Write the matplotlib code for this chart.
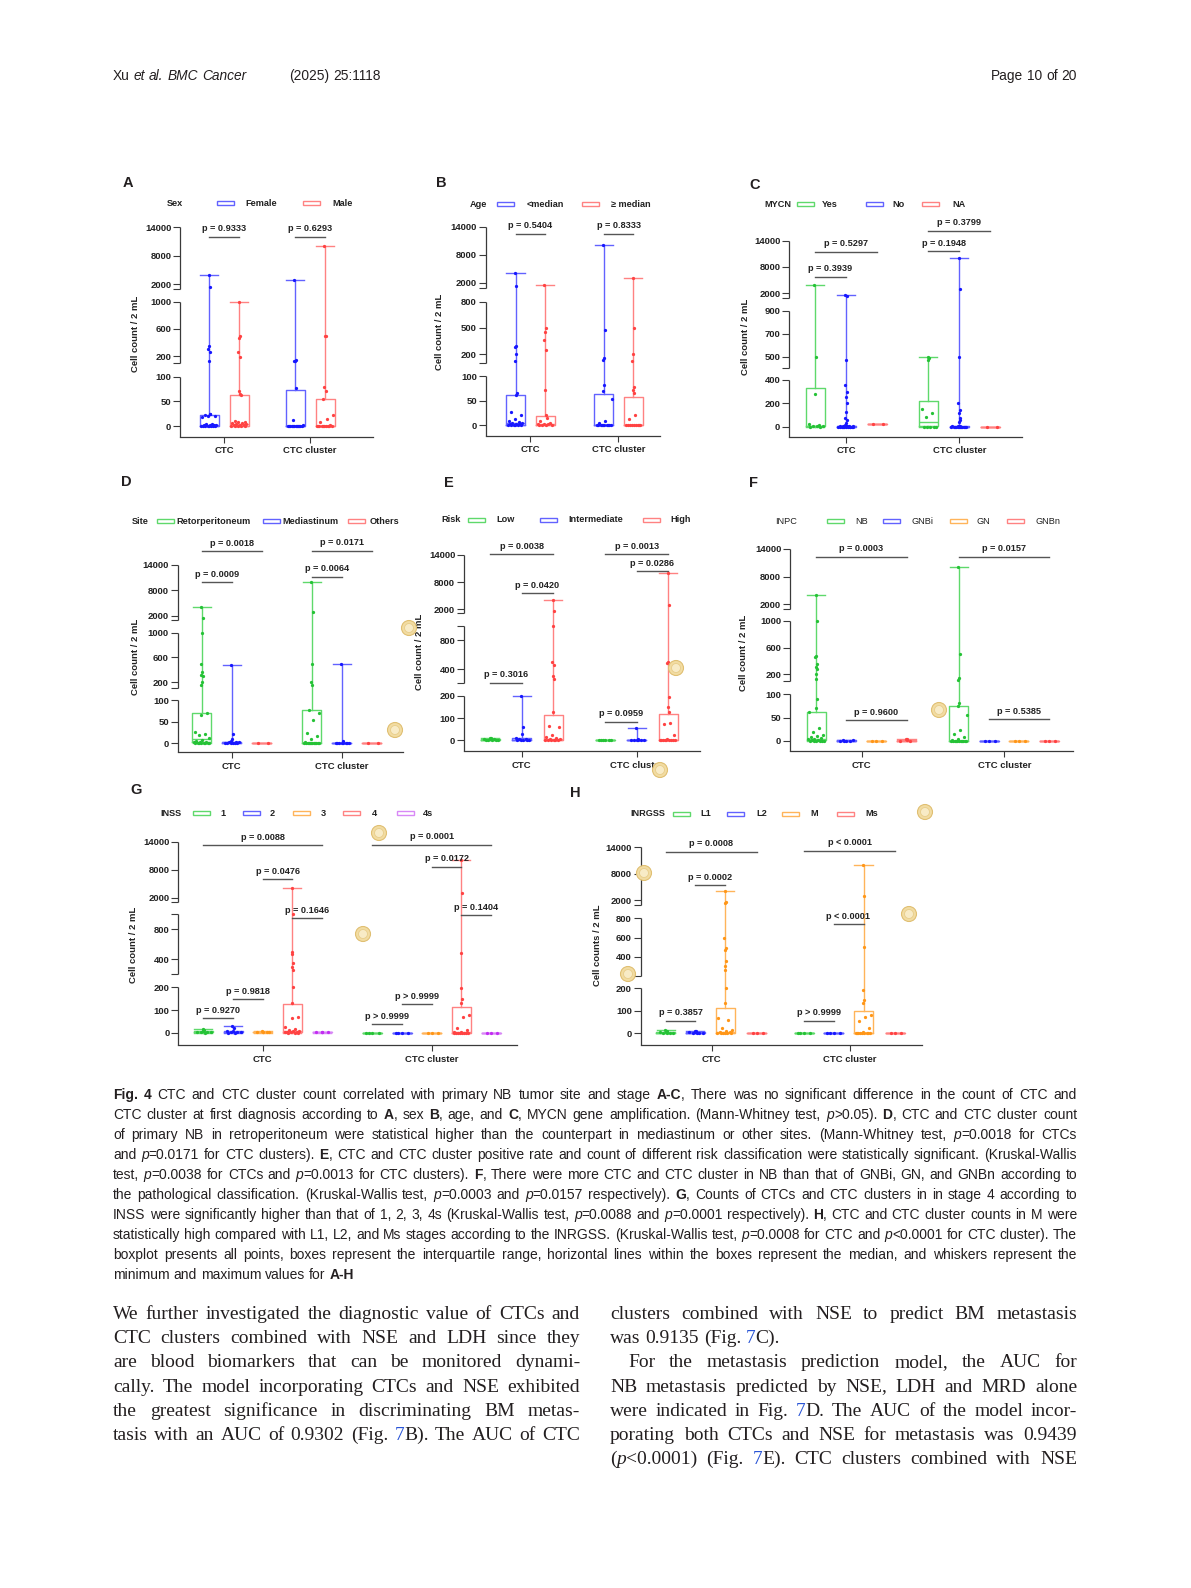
import re
import numpy as np
import matplotlib
matplotlib.use('Agg')
import matplotlib.pyplot as plt
import matplotlib.transforms as mtransforms
from matplotlib.patches import Rectangle, Ellipse

plt.rcParams['font.family'] = ['Liberation Sans', 'DejaVu Sans']

# ---------------- data ----------------
categories = ["CTC", "CTC cluster"]

# box rows per group: [min, q1, median, q3, max]
A_groups = ["Female", "Male"]
A_ctc_box = [[0, 1, 3, 22, 4000], [0, 1, 4, 63, 1000]]
A_cl_box = [[0, 0, 0, 74, 3000], [0, 0, 1, 55, 10000]]
A_ctc_pts = [[4000, 1500, 350, 310, 265, 120, 25, 24, 22, 21, 20, 18, 5, 4, 3, 3, 2, 2, 1, 1, 0, 0, 0, 0, 0, 0],
             [1000, 495, 460, 265, 190, 70, 65, 62, 10, 9, 8, 7, 6, 5, 4, 3, 3, 2, 1, 0, 0, 0, 0]]
A_cl_pts = [[3000, 140, 130, 125, 78, 12, 2, 1, 0, 0, 0, 0, 0, 0, 0, 0, 0, 0, 0],
            [10000, 500, 490, 80, 70, 55, 22, 15, 8, 2, 1, 0, 0, 0, 0, 0, 0, 0, 0, 0]]
A_pvals = [(0, 0, 1, 12000, "p = 0.9333"), (1, 0, 1, 12000, "p = 0.6293")]
A_yticks = [0, 50, 100, 200, 600, 1000, 2000, 8000, 14000]

B_groups = ["<median", "\u2265 median"]
B_ctc_box = [[0, 1, 4, 61, 4000], [0, 1, 2, 19, 1500]]
B_cl_box = [[0, 0, 0, 64, 10000], [0, 0, 0, 58, 3000]]
B_ctc_pts = [[4000, 1200, 290, 280, 205, 125, 65, 62, 26, 21, 12, 9, 7, 5, 4, 3, 3, 2, 1, 1, 0, 0, 0, 0],
             [1500, 495, 455, 360, 245, 72, 21, 14, 8, 4, 3, 2, 2, 1, 0, 0, 0]]
B_cl_pts = [[10000, 480, 150, 130, 81, 70, 54, 9, 5, 0, 0, 0, 0, 0, 0, 0, 0, 0, 0],
            [3000, 500, 200, 125, 78, 72, 65, 21, 12, 1, 0, 0, 0, 0, 0, 0, 0, 0]]
B_pvals = [(0, 0, 1, 12500, "p = 0.5404"), (1, 0, 1, 12500, "p = 0.8333")]
B_yticks = [0, 50, 100, 200, 500, 800, 2000, 8000, 14000]

C_groups = ["Yes", "No", "NA"]
C_ctc_box = [[0, 3, 8, 330, 4000], [0, 0, 2, 10, 1500], [20, 20, 20, 20, 20]]
C_cl_box = [[0, 5, 43, 223, 500], [0, 0, 1, 8, 10000], [0, 0, 0, 0, 0]]
C_ctc_pts = [[4000, 500, 277, 20, 12, 8, 5, 3, 0, 0],
             [1500, 1400, 470, 357, 300, 257, 200, 129, 71, 57, 29, 15, 10, 8, 5, 3, 2, 1, 0, 0, 0, 0, 0, 0, 0, 0, 0, 0],
             [20, 20]]
C_cl_pts = [[500, 490, 470, 149, 120, 80, 0, 0, 0, 0, 0],
            [10000, 3000, 500, 200, 143, 114, 71, 57, 43, 10, 5, 3, 1, 0, 0, 0, 0, 0, 0, 0, 0, 0, 0, 0],
            [0, 0]]
C_pvals = [(0, 0, 1, 5800, "p = 0.3939"), (0, 0, 2, 11500, "p = 0.5297"),
           (1, 0, 1, 11600, "p = 0.1948"), (1, 0, 2, 16300, "p = 0.3799")]
C_yticks = [0, 200, 400, 500, 700, 900, 2000, 8000, 14000]

D_groups = ["Retorperitoneum", "Mediastinum", "Others"]
D_ctc_box = [[0, 2, 10, 71, 4000], [0, 0, 2, 4, 475], [0, 0, 0, 0, 0]]
D_cl_box = [[0, 0, 0, 78, 10000], [0, 0, 0, 0, 500], [0, 0, 0, 0, 0]]
D_ctc_pts = [[4000, 1450, 1000, 500, 368, 310, 290, 205, 150, 69, 65, 27, 22, 19, 12, 8, 5, 4, 3, 2, 1, 1, 0, 0, 0, 0, 0, 0],
             [475, 21, 10, 5, 4, 3, 2, 1, 0, 0, 0, 0, 0],
             [0, 0]]
D_cl_pts = [[10000, 3000, 490, 200, 150, 77, 69, 54, 23, 18, 10, 2, 0, 0, 0, 0, 0, 0, 0, 0, 0, 0, 0, 0],
            [500, 5, 0, 0, 0, 0, 0, 0, 0, 0],
            [0, 0]]
D_pvals = [(0, 0, 1, 10000, "p = 0.0009"), (0, 0, 2, 17300, "p = 0.0018"),
           (1, 0, 1, 11250, "p = 0.0064"), (1, 0, 2, 17400, "p = 0.0171")]
D_yticks = [0, 50, 100, 200, 600, 1000, 2000, 8000, 14000]

E_groups = ["Low", "Intermediate", "High"]
E_ctc_box = [[0, 1, 3, 8, 12], [0, 1, 3, 9, 200], [0, 2, 7, 113, 4000]]
E_cl_box = [[0, 0, 0, 0, 0], [0, 0, 0, 3, 54], [0, 0, 1, 116, 10000]]
E_ctc_pts = [[12, 10, 8, 6, 4, 3, 2, 1, 0, 0],
             [200, 61, 27, 9, 6, 4, 3, 2, 1, 0, 0],
             [4000, 1600, 1000, 500, 455, 308, 262, 128, 66, 61, 24, 16, 9, 7, 5, 3, 2, 1, 0, 0, 0]]
E_cl_pts = [[0, 0, 0, 0, 0, 0],
            [54, 6, 3, 0, 0, 0, 0, 0],
            [10000, 3000, 500, 480, 193, 150, 125, 76, 72, 24, 8, 1, 0, 0, 0, 0, 0, 0, 0, 0]]
E_pvals = [(0, 0, 1, 210, "p = 0.3016"), (0, 1, 2, 5500, "p = 0.0420"), (0, 0, 2, 14150, "p = 0.0038"),
           (1, 0, 1, 84, "p = 0.0959"), (1, 1, 2, 10450, "p = 0.0286"), (1, 0, 2, 14150, "p = 0.0013")]
E_yticks = [0, 100, 200, 400, 800, 1000, 2000, 8000, 14000]
E_ylabels = ["0", "100", "200", "400", "800", "", "2000", "8000", "14000"]

F_groups = ["NB", "GNBi", "GN", "GNBn"]
F_ctc_box = [[0, 2, 4, 63, 4000], [0, 0, 1, 2, 3], [0, 0, 0, 0, 0], [0, 0, 1, 3, 5]]
F_cl_box = [[0, 0, 0, 74, 10000], [0, 0, 0, 0, 0], [0, 0, 0, 0, 0], [0, 0, 0, 0, 0]]
F_ctc_pts = [[4000, 1000, 480, 455, 355, 315, 280, 200, 130, 91, 71, 63, 27, 20, 13, 10, 8, 6, 5, 4, 3, 2, 1, 1, 0, 0, 0, 0],
             [3, 2, 1, 1, 0, 0],
             [0, 0, 0],
             [5, 4, 3, 1, 0]]
F_cl_pts = [[10000, 500, 140, 120, 81, 75, 56, 24, 16, 9, 4, 2, 0, 0, 0, 0, 0, 0, 0, 0, 0, 0, 0],
            [0, 0, 0], [0, 0, 0], [0, 0, 0]]
F_pvals = [(0, 0, 3, 12300, "p = 0.0003"), (0, 1, 3, 45, "p = 0.9600"),
           (1, 0, 3, 12300, "p = 0.0157"), (1, 1, 3, 47, "p = 0.5385")]
F_yticks = [0, 50, 100, 200, 600, 1000, 2000, 8000, 14000]

G_groups = ["1", "2", "3", "4", "4s"]
G_ctc_box = [[0, 1, 3, 8, 15], [0, 1, 4, 9, 29], [0, 1, 2, 4, 6], [0, 2, 7, 126, 4000], [0, 1, 2, 3, 5]]
G_cl_box = [[0, 0, 0, 0, 0], [0, 0, 0, 0, 0], [0, 0, 0, 0, 0], [0, 0, 1, 112, 10000], [0, 0, 0, 0, 0]]
G_ctc_pts = [[15, 10, 7, 5, 3, 2, 1, 0],
             [29, 19, 9, 6, 4, 2, 1, 0, 0],
             [6, 4, 3, 2, 1],
             [4000, 1000, 493, 470, 356, 293, 258, 200, 129, 71, 63, 24, 18, 12, 8, 6, 4, 3, 2, 1, 0, 0, 0],
             [5, 3, 2, 1]]
G_cl_pts = [[0, 0, 0, 0], [0, 0, 0, 0], [0, 0, 0],
            [10000, 3000, 490, 196, 150, 129, 78, 71, 19, 12, 5, 1, 0, 0, 0, 0, 0, 0, 0, 0],
            [0, 0, 0]]
G_pvals = [(0, 0, 1, 63, "p = 0.9270"), (0, 1, 2, 147, "p = 0.9818"), (0, 2, 3, 6000, "p = 0.0476"),
           (0, 3, 4, 950, "p = 0.1646"), (0, 0, 4, 13200, "p = 0.0088"),
           (1, 0, 1, 38, "p > 0.9999"), (1, 1, 2, 125, "p > 0.9999"), (1, 2, 3, 8600, "p = 0.0172"),
           (1, 3, 4, 990, "p = 0.1404"), (1, 0, 4, 13300, "p = 0.0001")]
G_yticks = [0, 100, 200, 400, 800, 1000, 2000, 8000, 14000]
G_ylabels = ["0", "100", "200", "400", "800", "", "2000", "8000", "14000"]

H_groups = ["L1", "L2", "M", "Ms"]
H_ctc_box = [[0, 1, 3, 8, 15], [0, 1, 3, 7, 12], [0, 2, 5, 111, 4000], [0, 0, 0, 0, 0]]
H_cl_box = [[0, 0, 0, 0, 0], [0, 0, 0, 0, 0], [0, 0, 1, 101, 10000], [0, 0, 0, 0, 0]]
H_ctc_pts = [[15, 11, 7, 5, 3, 2, 1, 0],
             [12, 9, 6, 4, 3, 2, 1, 0],
             [4000, 1500, 1300, 593, 489, 470, 358, 304, 263, 200, 133, 67, 59, 22, 15, 10, 8, 5, 3, 2, 1, 0, 0, 0],
             [0, 0, 0]]
H_cl_pts = [[0, 0, 0, 0], [0, 0, 0, 0],
            [10000, 3000, 500, 193, 148, 136, 81, 71, 56, 22, 8, 2, 0, 0, 0, 0, 0, 0, 0, 0],
            [0, 0, 0]]
H_pvals = [(0, 0, 1, 56, "p = 0.3857"), (0, 1, 2, 5400, "p = 0.0002"), (0, 0, 3, 13000, "p = 0.0008"),
           (1, 0, 1, 56, "p > 0.9999"), (1, 1, 2, 740, "p < 0.0001"), (1, 0, 3, 13200, "p < 0.0001")]
H_yticks = [0, 100, 200, 400, 600, 800, 2000, 8000, 14000]

# ---------------- style ----------------
GREEN = ('#25c236', '#5fd96b')
BLUE = ('#1717ff', '#6262ff')
RED = ('#ff4242', '#ff8282')
ORANGE = ('#ff9617', '#ffb45a')
PURPLE = ('#c22cf2', '#d888f6')
TXT = '#222222'
AXC = '#3a3a3a'
PAGE_TXT = '#231f20'
LINK = '#2a55d6'

W, H = 1191, 1588
fig = plt.figure(figsize=(W / 100, H / 100), dpi=100)
fig.patch.set_facecolor('white')


def fx(x):
    return x / W


def fy(y):
    return 1 - y / H


def make_scale(segs, axis_y):
    xs, ps = [], []
    for da, ya, db, yb, lo, hi in segs:
        ha, hb = axis_y - ya, axis_y - yb
        k = (hb - ha) / (db - da)
        lo = -1e4 if lo is None else lo * (1 + 1e-7) + 1e-7
        hi = 1e6 if hi is None else hi
        for d in (lo, hi):
            xs.append(d)
            ps.append(ha + k * (d - da))
    xs, ps = np.array(xs), np.array(ps)
    return (lambda v: np.interp(v, xs, ps)), (lambda p: np.interp(p, ps, xs))


def panel(lay, letter, title, groups, colors, ctc_box, cl_box, ctc_pts, cl_pts, pvals,
          yticks, ylabels=None, ylab="Cell count / 2 mL", legend_weight='bold'):
    L, ay, R = lay['spine_x'], lay['axis_y'], lay['x_end']
    t0, t1 = lay['ticks_x']
    s = t1 - t0
    segs = lay['segs']
    fwd, inv = make_scale(segs, ay)
    top = segs[-1][3] - 45
    hgt = ay - top
    ax = fig.add_axes([fx(L), fy(ay), (R - L) / W, hgt / H])
    ax.set_yscale('function', functions=(fwd, inv))

    offs = np.array(lay['offsets']) / s
    w = 19 / s
    for g in range(len(groups)):
        pc, lc = colors[g]
        stats = []
        for box in (ctc_box[g], cl_box[g]):
            mn, q1, med, q3, mx = box
            stats.append(dict(whislo=mn, q1=q1, med=med, q3=q3, whishi=mx))
        lp = dict(color=lc, lw=1.0)
        ax.bxp(stats, positions=[0 + offs[g], 1 + offs[g]], widths=w, capwidths=w * 0.95,
               showfliers=False, manage_ticks=False, boxprops=lp, whiskerprops=lp,
               capprops=lp, medianprops=lp)
        for c, (pts, box) in enumerate(((ctc_pts[g], ctc_box[g]), (cl_pts[g], cl_box[g]))):
            q3 = box[3]
            xs = []
            for i, v in enumerate(pts):
                amp = w * 0.85 if v <= max(q3, 3) else w * 0.12
                xs.append(c + offs[g] + (((i * 0.618034 + 0.27) % 1) - 0.5) * amp)
            ax.scatter(xs, pts, s=5.5, color=pc, linewidths=0, zorder=3, clip_on=False)

    # significance brackets
    for c, i, j, yv, txt in pvals:
        x1, x2 = c + offs[i], c + offs[j]
        ax.plot([x1, x2], [yv, yv], color='#555555', lw=1.0, clip_on=False)
        ax.annotate(txt, xy=((x1 + x2) / 2, yv), xytext=(0, 2.5), textcoords='offset points',
                    ha='center', va='bottom', fontsize=6.6, weight='bold', color=TXT,
                    annotation_clip=False)

    ax.set_xlim((L - t0) / s, (R - t0) / s)
    ax.set_ylim(inv(0.0), inv(hgt))

    # broken left axis
    for sp in ('left', 'top', 'right'):
        ax.spines[sp].set_visible(False)
    ax.spines['bottom'].set_color(AXC)
    ax.spines['bottom'].set_linewidth(0.9)
    tr = mtransforms.blended_transform_factory(ax.transAxes, ax.transData)
    breaks = []
    for seg in segs:
        lo, hi = seg[4], seg[5]
        y0 = inv(0.0) if lo is None else lo + 0.01
        y1 = max(yticks) if hi is None else hi
        if lo is not None:
            breaks.append(lo + 0.01)
        ax.plot([0, 0], [y0, y1], transform=tr, color=AXC, lw=0.9, clip_on=False,
                solid_capstyle='butt')
    if ylabels is None:
        ylabels = [str(v) for v in yticks]
    ax.set_yticks(yticks, labels=ylabels)
    ax.set_yticks(breaks, minor=True)
    ax.tick_params(axis='y', which='both', length=4.8, width=0.8, color=AXC, pad=1.5,
                   labelsize=6.8, labelcolor=TXT)
    ax.set_xticks([0, 1], labels=categories)
    ax.tick_params(axis='x', length=4.5, width=0.8, color=AXC, pad=2.5, labelsize=6.8,
                   labelcolor=TXT)
    for t in ax.get_yticklabels() + ax.get_xticklabels():
        t.set_fontweight('bold')

    # panel letter, y label, legend
    fig.text(fx(lay['letter'][0]), fy(lay['letter'][1]), letter, fontsize=10.5, weight='bold',
             color=PAGE_TXT, ha='center', va='center')
    fig.text(fx(lay['ylab'][0]), fy(lay['ylab'][1]), ylab, rotation=90, fontsize=6.8,
             weight='bold', color=TXT, ha='center', va='center')
    ly = lay['leg_y']
    fig.text(fx(lay['title_x']), fy(ly), title, fontsize=6.6, weight=legend_weight, color=TXT,
             ha='left', va='center')
    for g, name in enumerate(groups):
        fig.add_artist(Rectangle((fx(lay['hx'][g]), fy(ly + 2)), 17 / W, 4 / H,
                                 transform=fig.transFigure, fill=False,
                                 edgecolor=colors[g][1], lw=1.0))
        fig.text(fx(lay['lx'][g]), fy(ly), name, fontsize=6.6, weight=legend_weight,
                 color=TXT, ha='left', va='center')
    return ax


# ---------------- layout (page pixels) ----------------
A_lay = dict(letter=(128, 183), leg_y=203, title_x=167, hx=[217, 303], lx=[245, 332],
             spine_x=180, axis_y=436.7, x_end=373, ticks_x=(224.3, 310), offsets=[-15, 15],
             segs=[(0, 426.0, 100, 376.7, None, 100), (200, 356.0, 1000, 301.7, 100, 1000),
                   (2000, 284.3, 14000, 227.3, 1000, None)], ylab=(135, 334))
B_lay = dict(letter=(441, 183), leg_y=204.3, title_x=470, hx=[497.3, 581.7], lx=[526.7, 610.7],
             spine_x=485.7, axis_y=435.7, x_end=660, ticks_x=(530, 618.3), offsets=[-14.5, 15],
             segs=[(0, 425.3, 100, 376.0, None, 100), (200, 354.0, 800, 301.7, 100, 800),
                   (2000, 282.7, 14000, 226.7, 800, None)], ylab=(440, 332))
C_lay = dict(letter=(755, 185), leg_y=204.3, title_x=764.3, hx=[797.3, 866, 921.7],
             lx=[821.7, 892.7, 952.7], spine_x=789, axis_y=436.7, x_end=1022,
             ticks_x=(846, 959.3), offsets=[-31, 0, 31],
             segs=[(0, 426.7, 200, 403.3, None, 400), (500, 356.7, 900, 310.7, 400, 900),
                   (2000, 293.3, 14000, 240.7, 900, None)], ylab=(746, 337))
D_lay = dict(letter=(126, 482), leg_y=521, title_x=131.7, hx=[156.7, 263.3, 348.3],
             lx=[176.7, 282.7, 370], spine_x=177.7, axis_y=752.3, x_end=403,
             ticks_x=(231.7, 341.7), offsets=[-30, 0, 30],
             segs=[(0, 743.3, 100, 700.0, None, 100), (200, 682.0, 1000, 632.7, 100, 1000),
                   (2000, 616.0, 14000, 565.0, 1000, None)], ylab=(135, 657))
E_lay = dict(letter=(449, 483), leg_y=520, title_x=441.7, hx=[468.3, 540, 643.3],
             lx=[496.7, 568.3, 670], spine_x=464, axis_y=751, x_end=700,
             ticks_x=(521.7, 636.7), offsets=[-31.5, 0, 31.5],
             segs=[(0, 740.3, 200, 695.7, None, 200), (400, 669.0, 800, 640.0, 200, 1000),
                   (2000, 609.0, 14000, 555.0, 1000, None)], ylab=(419, 652))
F_lay = dict(letter=(754, 483), leg_y=521, title_x=775, hx=[826.7, 883.3, 950, 1006.7],
             lx=[855, 911.7, 976.7, 1035], spine_x=790, axis_y=751, x_end=1073,
             ticks_x=(861.7, 1004.3), offsets=[-45.5, -15.3, 14.5, 44.8],
             segs=[(0, 741.0, 100, 694.3, None, 100), (200, 674.3, 1000, 621.0, 100, 1000),
                   (2000, 604.3, 14000, 549.0, 1000, None)], ylab=(744, 653))
G_lay = dict(letter=(136, 790), leg_y=813.3, title_x=160,
             hx=[192.7, 242.7, 292.7, 343.3, 396.7], lx=[220, 270, 320.7, 371.7, 423.3],
             spine_x=178.3, axis_y=1045, x_end=517, ticks_x=(262.7, 431.7),
             offsets=[-59.4, -29.7, 0, 29.7, 59.4],
             segs=[(0, 1032.7, 200, 987.3, None, 200), (400, 959.3, 800, 929.3, 200, 1000),
                   (2000, 897.7, 14000, 841.7, 1000, None)], ylab=(133, 945))
H_lay = dict(letter=(575, 793), leg_y=814, title_x=630, hx=[673.3, 726.7, 781.7, 836.7],
             lx=[700.7, 756.7, 810.7, 865], spine_x=640.7, axis_y=1045, x_end=922,
             ticks_x=(711.7, 850), offsets=[-46, -16.5, 13.5, 45],
             segs=[(0, 1033.3, 200, 988.3, None, 200), (400, 956.7, 800, 918.3, 200, 800),
                   (2000, 900.0, 14000, 847.3, 800, None)], ylab=(598, 945))

panel(A_lay, "A", "Sex", A_groups, [BLUE, RED], A_ctc_box, A_cl_box, A_ctc_pts, A_cl_pts,
      A_pvals, A_yticks)
panel(B_lay, "B", "Age", B_groups, [BLUE, RED], B_ctc_box, B_cl_box, B_ctc_pts, B_cl_pts,
      B_pvals, B_yticks)
panel(C_lay, "C", "MYCN", C_groups, [GREEN, BLUE, RED], C_ctc_box, C_cl_box, C_ctc_pts,
      C_cl_pts, C_pvals, C_yticks)
panel(D_lay, "D", "Site", D_groups, [GREEN, BLUE, RED], D_ctc_box, D_cl_box, D_ctc_pts,
      D_cl_pts, D_pvals, D_yticks)
panel(E_lay, "E", "Risk", E_groups, [GREEN, BLUE, RED], E_ctc_box, E_cl_box, E_ctc_pts,
      E_cl_pts, E_pvals, E_yticks, ylabels=E_ylabels)
panel(F_lay, "F", "INPC", F_groups, [GREEN, BLUE, ORANGE, RED], F_ctc_box, F_cl_box,
      F_ctc_pts, F_cl_pts, F_pvals, F_yticks, legend_weight='normal')
panel(G_lay, "G", "INSS", G_groups, [GREEN, BLUE, ORANGE, RED, PURPLE], G_ctc_box, G_cl_box,
      G_ctc_pts, G_cl_pts, G_pvals, G_yticks, ylabels=G_ylabels)
panel(H_lay, "H", "INRGSS", H_groups, [GREEN, BLUE, ORANGE, RED], H_ctc_box, H_cl_box,
      H_ctc_pts, H_cl_pts, H_pvals, H_yticks, ylab="Cell counts / 2 mL")

# small beige markers sitting on the page
coin_xy = [(409, 628), (395, 730), (676, 668), (939, 710), (660, 770), (379, 833),
           (363, 934), (925, 812), (644, 873), (909, 914), (628, 974)]
for cx, cy in coin_xy:
    fig.add_artist(Ellipse((fx(cx), fy(cy)), 15 / W, 15 / H, transform=fig.transFigure,
                           facecolor='#f2dca2', edgecolor='#e0bf72', lw=0.8, zorder=20))
    fig.add_artist(Ellipse((fx(cx), fy(cy)), 9 / W, 9 / H, transform=fig.transFigure,
                           facecolor='#f8ebc6', edgecolor='#e8cd8a', lw=0.6, zorder=21))

# ---------------- page text ----------------
TOKEN = re.compile(r'(\*[^*]+\*|_[^_]+_|\{[^}]+\})')
renderer = fig.canvas.get_renderer()


def draw_line(text, x0, x1, ybase, base, justify=True, align='left'):
    words = []
    for word in text.split():
        parts = []
        for p in TOKEN.split(word):
            if not p:
                continue
            props = dict(base)
            if p[0] == '*' and len(p) > 2:
                props['weight'] = 'bold'
                p = p[1:-1]
            elif p[0] == '_' and len(p) > 2:
                props['style'] = 'italic'
                p = p[1:-1]
            elif p[0] == '{':
                props['color'] = LINK
                p = p[1:-1]
            t = fig.text(0, fy(ybase), p, ha='left', va='baseline', **props)
            parts.append([t, t.get_window_extent(renderer).width])
        words.append(parts)
    a = fig.text(0, 0, 'n n', **base)
    b = fig.text(0, 0, 'nn', **base)
    space = a.get_window_extent(renderer).width - b.get_window_extent(renderer).width
    a.remove()
    b.remove()
    n = len(words)
    wsum = sum(wd for parts in words for _, wd in parts)
    if justify and n > 1:
        gap = (x1 - x0 - wsum) / (n - 1)
        if gap < 0.8 * space:
            # squeeze the font a little when the line would overflow
            f = (x1 - x0) / (wsum + 0.8 * space * (n - 1))
            for parts in words:
                for item in parts:
                    item[0].set_fontsize(item[0].get_fontsize() * f)
                    item[1] *= f
            wsum *= f
            gap = (x1 - x0 - wsum) / (n - 1)
    else:
        gap = space
    total = sum(wd for parts in words for _, wd in parts) + gap * (n - 1)
    x = x0 if align == 'left' else x1 - total
    for parts in words:
        for t, wd in parts:
            t.set_x(fx(x))
            x += wd
        x += gap


head = dict(family=['Liberation Sans', 'DejaVu Sans'], fontsize=9.9, color=PAGE_TXT)
draw_line("Xu _et_ _al._ _BMC_ _Cancer_", 113, 300, 80, head, justify=False)
draw_line("(2025) 25:1118", 289, 500, 80, head, justify=False)
draw_line("Page 10 of 20", 900, 1077, 80, head, justify=False, align='right')

caption_lines = [
    "*Fig.* *4* CTC and CTC cluster count correlated with primary NB tumor site and stage *A-C*, There was no significant difference in the count of CTC and",
    "CTC cluster at first diagnosis according to *A*, sex *B*, age, and *C*, MYCN gene amplification. (Mann-Whitney test, _p_>0.05). *D*, CTC and CTC cluster count",
    "of primary NB in retroperitoneum were statistical higher than the counterpart in mediastinum or other sites. (Mann-Whitney test, _p_=0.0018 for CTCs",
    "and _p_=0.0171 for CTC clusters). *E*, CTC and CTC cluster positive rate and count of different risk classification were statistically significant. (Kruskal-Wallis",
    "test, _p_=0.0038 for CTCs and _p_=0.0013 for CTC clusters). *F*, There were more CTC and CTC cluster in NB than that of GNBi, GN, and GNBn according to",
    "the pathological classification. (Kruskal-Wallis test, _p_=0.0003 and _p_=0.0157 respectively). *G*, Counts of CTCs and CTC clusters in in stage 4 according to",
    "INSS were significantly higher than that of 1, 2, 3, 4s (Kruskal-Wallis test, _p_=0.0088 and _p_=0.0001 respectively). *H*, CTC and CTC cluster counts in M were",
    "statistically high compared with L1, L2, and Ms stages according to the INRGSS. (Kruskal-Wallis test, _p_=0.0008 for CTC and _p_<0.0001 for CTC cluster). The",
    "boxplot presents all points, boxes represent the interquartile range, horizontal lines within the boxes represent the median, and whiskers represent the",
    "minimum and maximum values for *A-H*",
]
cap = dict(family=['Liberation Sans', 'DejaVu Sans'], fontsize=10.0, color=PAGE_TXT)
for i, line in enumerate(caption_lines):
    draw_line(line, 113, 1077, 1095 + 20.03 * i + 4, cap,
              justify=(i < len(caption_lines) - 1))

left_col = [
    "We further investigated the diagnostic value of CTCs and",
    "CTC clusters combined with NSE and LDH since they",
    "are blood biomarkers that can be monitored dynami-",
    "cally. The model incorporating CTCs and NSE exhibited",
    "the greatest significance in discriminating BM metas-",
    "tasis with an AUC of 0.9302 (Fig. {7}B). The AUC of CTC",
]
right_col = [
    ("clusters combined with NSE to predict BM metastasis", 0, True),
    ("was 0.9135 (Fig. {7}C).", 0, False),
    ("For the metastasis prediction model, the AUC for", 18, True),
    ("NB metastasis predicted by NSE, LDH and MRD alone", 0, True),
    ("were indicated in Fig. {7}D. The AUC of the model incor-", 0, True),
    ("porating both CTCs and NSE for metastasis was 0.9439", 0, True),
    ("(_p_<0.0001) (Fig. {7}E). CTC clusters combined with NSE", 0, True),
]
body = dict(family=['Liberation Serif', 'DejaVu Serif'], fontsize=14.0, color=PAGE_TXT)
for i, line in enumerate(left_col):
    draw_line(line, 113, 580, 1313.6 + 24.14 * i + 5.5, body)
for i, (line, ind, just) in enumerate(right_col):
    draw_line(line, 610 + ind, 1077, 1313.6 + 24.14 * i + 5.5, body, justify=just)

fig.savefig('out.png', dpi=100, facecolor='white')
